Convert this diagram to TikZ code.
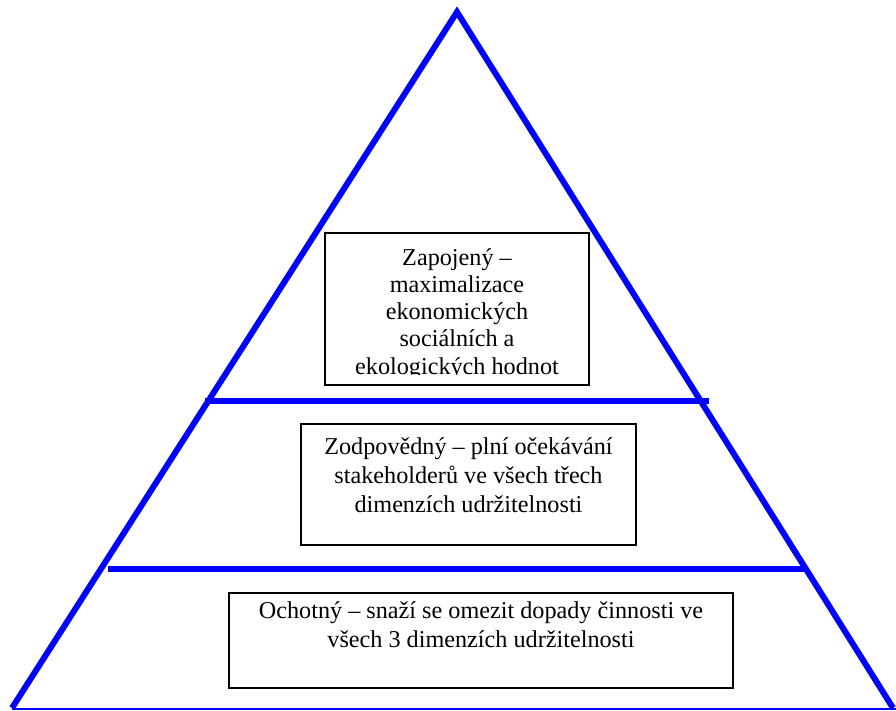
\documentclass[tikz,border=0pt]{standalone}
\usepackage{fontspec}
\setmainfont{Liberation Serif}
\definecolor{tierblue}{RGB}{0,0,255}
\tikzset{
  side/.style={draw=tierblue, line width=6pt},
  tier/.style={draw=tierblue, line width=6pt},
  groundline/.style={draw=tierblue, line width=1.2pt},
  levelbox/.style={draw=black, line width=1.6pt, fill=white, inner sep=0pt},
  leveltext/.style={align=center, inner sep=0pt},
}
\begin{document}
\begin{tikzpicture}[x=1pt,y=-1pt]
\useasboundingbox (0,0) rectangle (896,711);

% pyramid outline
\coordinate (apex) at (457,12);
\coordinate (baseL) at (12,708);
\coordinate (baseR) at (893,708);
\coordinate (groundL) at (12,709);
\coordinate (groundR) at (896,709);
\draw[side] (baseL) -- (apex) -- (baseR);
\draw[groundline] (groundL) -- (groundR);

% dividing lines between the levels
\coordinate (upperL) at (205,400.5);
\coordinate (upperR) at (709,400.5);
\coordinate (lowerL) at (108,569);
\coordinate (lowerR) at (805,569);
\draw[tier] (upperL) -- (upperR);
\draw[tier] (lowerL) -- (lowerR);

% top level
\node[levelbox, minimum width=264, minimum height=152] (engaged) at (457,309) {};
\begin{scope}
  \clip (326,234) rectangle (588,374);
  \node[leveltext, anchor=north, font=\fontsize{24.2}{27.2}\selectfont]
    (engagedtext) at (457,245.96)
    {\strut Zapojený –\\maximalizace\\ekonomických\\sociálních a\\ekologických hodnot};
\end{scope}

% middle level
\node[levelbox, minimum width=335, minimum height=121] (responsible) at (468.5,484.5) {};
\node[leveltext, anchor=north, font=\fontsize{24.2}{29}\selectfont]
  (responsibletext) at (468.5,433.7)
  {\strut Zodpovědný – plní očekávání\\stakeholderů ve všech třech\\dimenzích udržitelnosti};

% bottom level
\node[levelbox, minimum width=504, minimum height=95] (willing) at (481,640.5) {};
\node[leveltext, anchor=north, font=\fontsize{24.2}{29.5}\selectfont]
  (willingtext) at (481,597.35)
  {\strut Ochotný – snaží se omezit dopady činnosti ve\\všech 3 dimenzích udržitelnosti};
\end{tikzpicture}
\end{document}
